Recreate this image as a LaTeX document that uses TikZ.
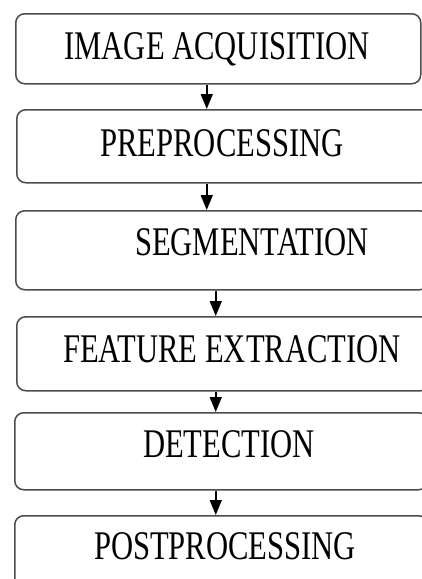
\documentclass[tikz,border=0pt]{standalone}
\usepackage{fontspec}
\usepackage{graphicx}
\setmainfont{Liberation Serif}
\newfontfamily\stagefont{Liberation Serif}
\usetikzlibrary{arrows.meta}

% taller capitals, as in the scanned figure
\newcommand{\stagetext}[1]{\scalebox{1}[1.33]{#1}}

\tikzset{
  stage/.style={draw=black!70, line width=1.5pt, rounded corners=9pt,
    inner sep=0pt, anchor=north west},
  stagelabel/.style={anchor=base, inner sep=0pt,
    font=\stagefont\fontsize{30.6}{34}\selectfont},
  flow/.style={draw=black, line width=1.5pt,
    -{Triangle[width=12pt,length=15pt]}}
}

\begin{document}
\begin{tikzpicture}[x=1pt,y=-1pt]
  \useasboundingbox (0,0) rectangle (422,579);
  \clip (0,0) rectangle (422,579);

  % the six stages
  \node[stage, minimum width=405pt, minimum height=70pt] (acq) at (15,13) {};
  \node[stage, minimum width=413pt, minimum height=73pt] (pre) at (16,109) {};
  \node[stage, minimum width=413pt, minimum height=79pt] (seg) at (15,210) {};
  \node[stage, minimum width=413pt, minimum height=74pt] (fea) at (16,316) {};
  \node[stage, minimum width=413pt, minimum height=77pt] (det) at (14,412) {};
  \node[stage, minimum width=413pt, minimum height=90pt] (post) at (14,515) {};

  \node[stagelabel] (tacq) at (217,59) {\stagetext{IMAGE ACQUISITION}};
  \node[stagelabel] (tpre) at (222,156) {\stagetext{PREPROCESSING}};
  \node[stagelabel] (tseg) at (252,255) {\stagetext{SEGMENTATION}};
  \node[stagelabel] (tfea) at (232,362) {\stagetext{FEATURE EXTRACTION}};
  \node[stagelabel] (tdet) at (229,457) {\stagetext{DETECTION}};
  \node[stagelabel] (tpost) at (225,559) {\stagetext{POSTPROCESSING}};

  % arrows between stages
  \draw[flow] ([xshift=-11.5pt]acq.south) -- ([xshift=-11.5pt]acq.south |- pre.north);
  \draw[flow] ([xshift=-16.5pt]pre.south) -- ([xshift=-16.5pt]pre.south |- seg.north);
  \draw[flow] ([xshift=-6.5pt]seg.south) -- ([xshift=-6.5pt]seg.south |- fea.north);
  \draw[flow] ([xshift=-7.5pt]fea.south) -- ([xshift=-7.5pt]fea.south |- det.north);
  \draw[flow] ([xshift=-5.5pt]det.south) -- ([xshift=-5.5pt]det.south |- post.north);
\end{tikzpicture}
\end{document}
